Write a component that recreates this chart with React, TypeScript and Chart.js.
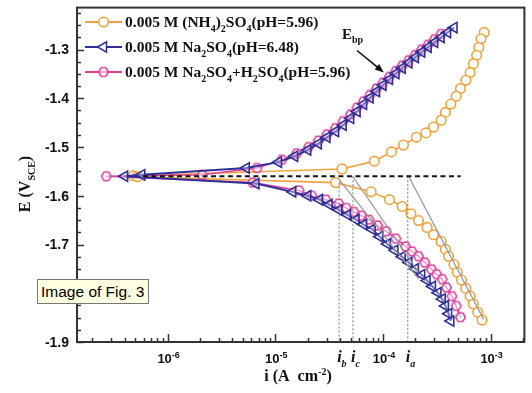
import React, { useEffect, useRef } from "react";
import { Chart, registerables } from "chart.js";

Chart.register(...registerables);

// ---------- axis ranges & ticks ----------
const xMin = 1.44e-7;
const xMax = 2.06e-3;
const yMin = -1.9;
const yMax = -1.214;
const yMajorTicks = [-1.9, -1.8, -1.7, -1.6, -1.5, -1.4, -1.3];
const xMajorTicks = [1e-6, 1e-5, 1e-4, 1e-3];
const xMajorExponents = ["-6", "-5", "-4", "-3"];

// ---------- series: 0.005 M (NH4)2SO4 (pH=5.96) ----------
const nh4I = [
  8.71e-4, 8.13e-4, 7.76e-4, 7.41e-4, 6.92e-4, 6.46e-4, 5.89e-4, 5.25e-4, 4.79e-4, 4.27e-4,
  3.8e-4, 3.47e-4, 2.95e-4, 2.51e-4, 2.04e-4, 1.55e-4, 1.2e-4, 8.32e-5, 4.17e-5, 4.79e-7,
  5.25e-7, 3.63e-5, 7.76e-5, 1.15e-4, 1.51e-4, 1.82e-4, 2.14e-4, 2.57e-4, 2.95e-4, 3.47e-4,
  3.8e-4, 4.07e-4, 4.57e-4, 4.9e-4, 5.37e-4, 5.89e-4, 6.46e-4, 6.92e-4, 7.59e-4, 8.32e-4,
];
const nh4E = [
  -1.265, -1.278, -1.296, -1.312, -1.329, -1.347, -1.363, -1.38, -1.396, -1.412,
  -1.429, -1.445, -1.459, -1.471, -1.48, -1.496, -1.51, -1.529, -1.545, -1.559,
  -1.561, -1.573, -1.592, -1.608, -1.622, -1.637, -1.651, -1.665, -1.68, -1.694,
  -1.71, -1.724, -1.741, -1.757, -1.773, -1.79, -1.806, -1.822, -1.839, -1.855,
];

// ---------- series: 0.005 M Na2SO4 (pH=6.48) ----------
const naI = [
  4.57e-4, 3.98e-4, 3.47e-4, 3.02e-4, 2.63e-4, 2.29e-4, 2.0e-4, 1.74e-4, 1.51e-4, 1.32e-4,
  1.15e-4, 1.0e-4, 8.71e-5, 7.59e-5, 6.61e-5, 5.75e-5, 5.01e-5, 4.27e-5, 3.63e-5, 3.02e-5,
  2.51e-5, 2.0e-5, 1.51e-5, 1.07e-5, 5.37e-6, 5.75e-7, 3.98e-7,
  6.61e-6, 1.45e-5, 2.0e-5, 2.57e-5, 3.16e-5, 3.89e-5, 4.68e-5, 5.62e-5, 6.61e-5, 7.94e-5,
  9.33e-5, 1.1e-4, 1.29e-4, 1.51e-4, 1.74e-4, 2.0e-4, 2.29e-4, 2.57e-4, 2.88e-4, 3.24e-4,
  3.55e-4, 3.8e-4, 4.07e-4, 4.27e-4,
];
const naE = [
  -1.255, -1.265, -1.275, -1.285, -1.295, -1.305, -1.316, -1.327, -1.338, -1.349,
  -1.361, -1.373, -1.386, -1.399, -1.412, -1.427, -1.441, -1.455, -1.468, -1.48,
  -1.493, -1.506, -1.519, -1.531, -1.543, -1.557, -1.56,
  -1.575, -1.592, -1.6, -1.608, -1.618, -1.629, -1.639, -1.649, -1.659, -1.669,
  -1.684, -1.699, -1.712, -1.725, -1.737, -1.75, -1.762, -1.774, -1.786, -1.799,
  -1.812, -1.826, -1.842, -1.857,
];

// ---------- series: 0.005 M Na2SO4 + H2SO4 (pH=5.96) ----------
const mixI = [
  3.47e-4, 3.02e-4, 2.63e-4, 2.29e-4, 2.0e-4, 1.74e-4, 1.51e-4, 1.32e-4, 1.15e-4, 1.0e-4,
  8.71e-5, 7.59e-5, 6.61e-5, 5.75e-5, 5.01e-5, 4.27e-5, 3.63e-5, 3.02e-5, 2.51e-5, 2.04e-5,
  1.58e-5, 1.15e-5, 6.76e-6, 2.09e-6, 2.69e-7,
  6.17e-6, 1.66e-5, 2.19e-5, 2.95e-5, 3.89e-5, 4.57e-5, 5.37e-5, 6.31e-5, 7.41e-5, 8.91e-5,
  1.07e-4, 1.32e-4, 1.62e-4, 1.86e-4, 2.14e-4, 2.45e-4, 2.82e-4, 3.16e-4, 3.55e-4, 3.89e-4,
  4.37e-4, 4.79e-4, 5.25e-4,
];
const mixE = [
  -1.268, -1.279, -1.29, -1.3, -1.311, -1.322, -1.333, -1.344, -1.356, -1.368,
  -1.38, -1.393, -1.406, -1.419, -1.433, -1.447, -1.461, -1.474, -1.487, -1.5,
  -1.513, -1.526, -1.543, -1.557, -1.56,
  -1.573, -1.589, -1.6, -1.608, -1.616, -1.625, -1.633, -1.641, -1.649, -1.661,
  -1.673, -1.688, -1.704, -1.714, -1.724, -1.737, -1.751, -1.761, -1.771, -1.788,
  -1.806, -1.826, -1.849,
];

// ---------- annotations ----------
const ecorrE = -1.56;
const ecorrLineI = [5.9e-7, 5.27e-4];
const markerNames = ["b", "c", "a"];
const markerI = [3.92e-5, 5.27e-5, 1.7e-4];
const markerTopE = [-1.573, -1.56, -1.56];
const tafelBI = [3.92e-5, 2.15e-4];
const tafelBE = [-1.567, -1.771];
const tafelCI = [5.27e-5, 2.15e-4];
const tafelCE = [-1.561, -1.757];
const tafelAI = [1.74e-4, 8.6e-4];
const tafelAE = [-1.561, -1.853];
const ebpLabel = { i: 4.17e-5, E: -1.278 };
const ebpArrowFrom = { i: 5.74e-5, E: -1.302 };
const ebpArrowTo = { i: 1.02e-4, E: -1.347 };

const legendLabels = [
  [{ t: "0.005 M (NH" }, { t: "4", sub: true }, { t: ")" }, { t: "2", sub: true }, { t: "SO" }, { t: "4", sub: true }, { t: "(pH=5.96)" }],
  [{ t: "0.005 M Na" }, { t: "2", sub: true }, { t: "SO" }, { t: "4", sub: true }, { t: "(pH=6.48)" }],
  [{ t: "0.005 M Na" }, { t: "2", sub: true }, { t: "SO" }, { t: "4", sub: true }, { t: "+H" }, { t: "2", sub: true }, { t: "SO" }, { t: "4", sub: true }, { t: "(pH=5.96)" }],
];

// ---------- styles ----------
const ORANGE = "#F2A23C";
const NAVY = "#2F2F98";
const PINK = "#E03C9A";
const GRAY = "#9a9a9a";
const AXIS = "#333333";
const SERIF = '"Liberation Serif", "Times New Roman", serif';
const SANS = '"Liberation Sans", Arial, sans-serif';

type Seg = { t: string; sub?: boolean; sup?: boolean };

function drawRich(
  ctx: CanvasRenderingContext2D,
  segs: Seg[],
  x: number,
  y: number,
  size: number,
  family: string,
  style: string,
  align: "left" | "center",
  smallSize?: number
) {
  const small = smallSize ?? Math.round(size * 0.65);
  const fMain = `${style} ${size}px ${family}`;
  const fSmall = `${style} ${small}px ${family}`;
  let w = 0;
  const widths: number[] = [];
  for (const s of segs) {
    ctx.font = s.sub || s.sup ? fSmall : fMain;
    const m = ctx.measureText(s.t).width;
    widths.push(m);
    w += m;
  }
  let cx = align === "center" ? x - w / 2 : x;
  ctx.textAlign = "left";
  ctx.textBaseline = "alphabetic";
  segs.forEach((s, k) => {
    ctx.font = s.sub || s.sup ? fSmall : fMain;
    const dy = s.sub ? size * 0.3 : s.sup ? -size * 0.4 : 0;
    ctx.fillText(s.t, cx, y + dy);
    cx += widths[k];
  });
}

function makeHex(color: string, r: number, lw: number) {
  const s = Math.ceil(2 * r + lw * 2 + 2);
  const c = document.createElement("canvas");
  c.width = s;
  c.height = s;
  const g = c.getContext("2d")!;
  g.strokeStyle = color;
  g.lineWidth = lw;
  g.fillStyle = "rgba(255,255,255,0.5)";
  g.beginPath();
  for (let k = 0; k < 6; k++) {
    const a = k * (Math.PI / 3);
    const px = s / 2 + r * Math.cos(a);
    const py = s / 2 + r * Math.sin(a);
    if (k === 0) g.moveTo(px, py);
    else g.lineTo(px, py);
  }
  g.closePath();
  g.fill();
  g.stroke();
  return c;
}

const pts = (is: number[], es: number[]) => is.map((v, k) => ({ x: v, y: es[k] }));

export default function App() {
  const ref = useRef<HTMLCanvasElement>(null);

  useEffect(() => {
    document.body.style.margin = "0";
    const hex = makeHex(PINK, 4.8, 1.5);

    const decor = {
      id: "decor",
      afterDatasetsDraw(chart: any) {
        const ctx: CanvasRenderingContext2D = chart.ctx;
        const a = chart.chartArea;
        const xs = chart.scales.x;
        const ys = chart.scales.y;
        ctx.save();

        // ticks (inward)
        ctx.strokeStyle = AXIS;
        ctx.lineWidth = 1.5;
        const yTickVals: { v: number; major: boolean }[] = [];
        yMajorTicks.forEach((v) => {
          yTickVals.push({ v, major: true });
          for (let k = 1; k < 4; k++) {
            const m = v + 0.025 * k;
            if (m < yMax) yTickVals.push({ v: m, major: false });
          }
        });
        yTickVals.forEach(({ v, major }) => {
          const py = Math.round(ys.getPixelForValue(v)) + 0.5;
          ctx.beginPath();
          ctx.moveTo(a.left, py);
          ctx.lineTo(a.left + (major ? 7 : 4), py);
          ctx.stroke();
        });
        for (let n = -7; n <= -3; n++) {
          for (let k = 1; k <= 9; k++) {
            const v = k * Math.pow(10, n);
            if (v < xMin || v > xMax) continue;
            const px = Math.round(xs.getPixelForValue(v)) + 0.5;
            ctx.beginPath();
            ctx.moveTo(px, a.bottom);
            ctx.lineTo(px, a.bottom - (k === 1 ? 8 : 4));
            ctx.stroke();
          }
        }

        // frame
        ctx.lineWidth = 2;
        ctx.strokeStyle = AXIS;
        ctx.strokeRect(a.left, a.top, a.right - a.left, a.bottom - a.top);

        ctx.fillStyle = "#111";
        ctx.font = `bold 14px ${SANS}`;
        ctx.textAlign = "right";
        ctx.textBaseline = "middle";
        yMajorTicks.forEach((v) => {
          ctx.fillText(v.toFixed(1), a.left - 8, ys.getPixelForValue(v) + 1);
        });
        xMajorTicks.forEach((v, k) => {
          drawRich(ctx, [{ t: "10" }, { t: xMajorExponents[k], sup: true }], xs.getPixelForValue(v) + 1, a.bottom + 21, 13, SANS, "bold", "center", 9);
        });
        markerI.forEach((v, k) => {
          drawRich(ctx, [{ t: "i" }, { t: markerNames[k], sub: true }], xs.getPixelForValue(v) - 2, a.bottom + 20, 16, SERIF, "italic bold", "left", 10);
        });
        drawRich(ctx, [{ t: "i (A  cm" }, { t: "-2", sup: true }, { t: ")" }], 298, 381, 16, SERIF, "bold", "center", 10);
        ctx.save();
        ctx.translate(30, 184);
        ctx.rotate(-Math.PI / 2);
        drawRich(ctx, [{ t: "E (V" }, { t: "SCE", sub: true }, { t: ")" }], 0, 0, 16, SERIF, "bold", "center", 10);
        ctx.restore();

        // legend
        const legendStyles = [
          { color: ORANGE, kind: "circle" },
          { color: NAVY, kind: "tri" },
          { color: PINK, kind: "hex" },
        ];
        legendStyles.forEach((st, k) => {
          const ly = 22 + k * 25;
          ctx.strokeStyle = st.color;
          ctx.lineWidth = 2;
          ctx.beginPath();
          ctx.moveTo(85, ly);
          ctx.lineTo(122, ly);
          ctx.stroke();
          const mx = 103.5;
          ctx.lineWidth = 1.5;
          ctx.fillStyle = "#fff";
          if (st.kind === "circle") {
            ctx.beginPath();
            ctx.arc(mx, ly, 4.8, 0, Math.PI * 2);
            ctx.fill();
            ctx.stroke();
          } else if (st.kind === "tri") {
            ctx.beginPath();
            ctx.moveTo(mx - 6, ly);
            ctx.lineTo(mx + 3, ly - 5.2);
            ctx.lineTo(mx + 3, ly + 5.2);
            ctx.closePath();
            ctx.fill();
            ctx.stroke();
          } else {
            ctx.drawImage(hex, mx - hex.width / 2, ly - hex.height / 2);
          }
          ctx.fillStyle = "#111";
          drawRich(ctx, legendLabels[k], 125, ly + 5, 15.5, SERIF, "bold", "left", 10);
        });

        // E_bp arrow
        const lx = xs.getPixelForValue(ebpLabel.i);
        const lyy = ys.getPixelForValue(ebpLabel.E);
        ctx.fillStyle = "#111";
        drawRich(ctx, [{ t: "E" }, { t: "bp", sub: true }], lx, lyy, 15, SERIF, "bold", "left", 10);
        const x0 = xs.getPixelForValue(ebpArrowFrom.i);
        const y0 = ys.getPixelForValue(ebpArrowFrom.E);
        const x1 = xs.getPixelForValue(ebpArrowTo.i);
        const y1 = ys.getPixelForValue(ebpArrowTo.E);
        const ang = Math.atan2(y1 - y0, x1 - x0);
        const hl = 9;
        ctx.strokeStyle = "#111";
        ctx.lineWidth = 1.6;
        ctx.beginPath();
        ctx.moveTo(x0, y0);
        ctx.lineTo(x1 - Math.cos(ang) * hl * 0.8, y1 - Math.sin(ang) * hl * 0.8);
        ctx.stroke();
        ctx.beginPath();
        ctx.moveTo(x1, y1);
        ctx.lineTo(x1 - hl * Math.cos(ang) + 3.5 * Math.sin(ang), y1 - hl * Math.sin(ang) - 3.5 * Math.cos(ang));
        ctx.lineTo(x1 - hl * Math.cos(ang) - 3.5 * Math.sin(ang), y1 - hl * Math.sin(ang) + 3.5 * Math.cos(ang));
        ctx.closePath();
        ctx.fill();

        ctx.restore();
      },
    };

    const lineDs = (data: any[], color: string, width: number, dash: number[], order: number) => ({
      data,
      showLine: true,
      borderColor: color,
      borderWidth: width,
      borderDash: dash,
      pointRadius: 0,
      pointHoverRadius: 0,
      tension: 0,
      order,
    });

    const datasets: any[] = [
      lineDs(ecorrLineI.map((v) => ({ x: v, y: ecorrE })), "#111", 2, [5, 3.5], 0),
      lineDs(pts(tafelBI, tafelBE), GRAY, 1.3, [], 1),
      lineDs(pts(tafelCI, tafelCE), GRAY, 1.3, [], 1),
      lineDs(pts(tafelAI, tafelAE), GRAY, 1.3, [], 1),
      ...markerI.map((v, k) =>
        lineDs([{ x: v, y: markerTopE[k] }, { x: v, y: yMin }], "#8a8a8a", 1.2, [2, 2], 1)
      ),
      {
        data: pts(naI, naE),
        showLine: true,
        borderColor: NAVY,
        borderWidth: 2,
        pointStyle: "triangle",
        rotation: -90,
        pointRadius: 6,
        pointBorderWidth: 1.6,
        pointBorderColor: NAVY,
        pointBackgroundColor: "rgba(255,255,255,0.35)",
        tension: 0,
        order: 2,
      },
      {
        data: pts(mixI, mixE),
        showLine: true,
        borderColor: PINK,
        borderWidth: 1.6,
        pointStyle: hex,
        pointRadius: 5,
        tension: 0,
        order: 3,
      },
      {
        data: pts(nh4I, nh4E),
        showLine: true,
        borderColor: ORANGE,
        borderWidth: 1.6,
        pointStyle: "circle",
        pointRadius: 4.8,
        pointBorderWidth: 1.6,
        pointBorderColor: ORANGE,
        pointBackgroundColor: "#fff",
        tension: 0,
        order: 4,
      },
    ];

    const chart = new Chart(ref.current!, {
      type: "scatter",
      data: { datasets },
      options: {
        responsive: false,
        animation: false,
        events: [],
        layout: { padding: { left: 77, right: 6, top: 6, bottom: 51 } },
        plugins: { legend: { display: false }, tooltip: { enabled: false } },
        scales: {
          x: { type: "logarithmic", min: xMin, max: xMax, display: false },
          y: { type: "linear", min: yMin, max: yMax, display: false },
        },
      },
      plugins: [decor],
    } as any);
    return () => chart.destroy();
  }, []);

  return (
    <div style={{ position: "relative", width: 532, height: 393, background: "#fff" }}>
      <canvas ref={ref} width={532} height={393} style={{ display: "block" }} />
      <div
        style={{
          position: "absolute",
          left: 37,
          top: 279,
          width: 112,
          height: 25,
          boxSizing: "border-box",
          background: "#FFFFE1",
          border: "1px solid #767676",
          font: '15.5px "Liberation Sans", Arial, sans-serif',
          lineHeight: "23px",
          paddingLeft: 3,
          color: "#000",
          whiteSpace: "nowrap",
        }}
      >
        Image of Fig. 3
      </div>
    </div>
  );
}
